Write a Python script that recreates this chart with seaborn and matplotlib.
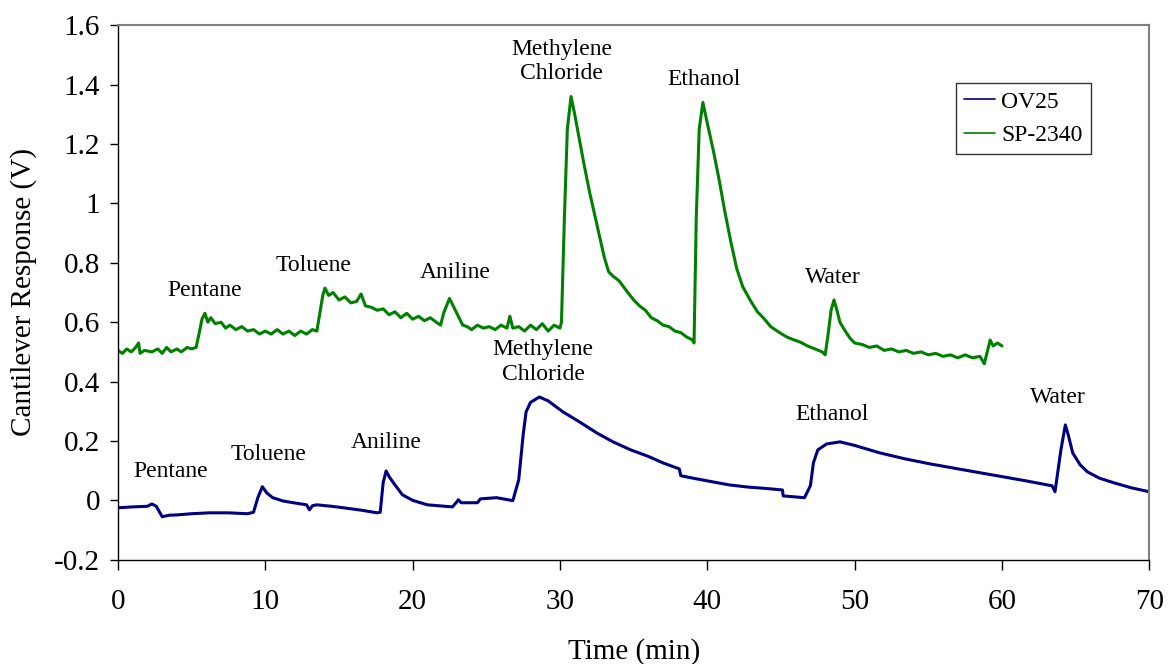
import numpy as np
import pandas as pd
import seaborn as sns
import matplotlib.pyplot as plt

# --- data ---
sp_t = [0.0, 0.3, 0.6, 0.9, 1.2, 1.4, 1.5, 1.8, 2.3, 2.7, 3.0, 3.3, 3.6, 4.0, 4.3, 4.7,
        5.0, 5.3, 5.5, 5.7, 5.9, 6.1, 6.3, 6.6, 7.0, 7.3, 7.6, 8.0, 8.4, 8.8, 9.2, 9.6,
        10.0, 10.4, 10.8, 11.2, 11.6, 12.0, 12.4, 12.8, 13.2, 13.5, 13.7, 13.9, 14.05,
        14.3, 14.6, 15.0, 15.4, 15.8, 16.2, 16.5, 16.8, 17.2, 17.6, 18.0, 18.4, 18.8,
        19.2, 19.6, 20.0, 20.4, 20.8, 21.2, 21.6, 21.9, 22.1, 22.5, 22.8, 23.1, 23.4,
        23.7, 24.0, 24.4, 24.8, 25.2, 25.6, 26.0, 26.4, 26.6, 26.8, 27.2, 27.6, 28.0,
        28.4, 28.8, 29.2, 29.6, 30.0, 30.1, 30.3, 30.5, 30.75, 31.0, 31.3, 31.6, 32.0,
        32.5, 33.0, 33.3, 33.6, 34.0, 34.3, 34.6, 35.0, 35.4, 35.8, 36.2, 36.6, 37.0,
        37.4, 37.8, 38.2, 38.6, 39.0, 39.1, 39.25, 39.45, 39.7, 40.0, 40.4, 40.8, 41.2,
        41.6, 42.0, 42.4, 42.9, 43.4, 43.8, 44.3, 44.9, 45.4, 45.9, 46.3, 46.8, 47.3,
        47.8, 48.0, 48.2, 48.4, 48.6, 48.8, 49.0, 49.3, 49.7, 50.0, 50.5, 51.0, 51.5,
        52.0, 52.5, 53.0, 53.5, 54.0, 54.5, 55.0, 55.5, 56.0, 56.5, 57.0, 57.5, 58.0,
        58.5, 58.8, 59.0, 59.2, 59.4, 59.7, 60.0]
sp_v = [0.505, 0.495, 0.51, 0.50, 0.515, 0.53, 0.495, 0.505, 0.50, 0.51, 0.495, 0.515,
        0.50, 0.51, 0.50, 0.515, 0.51, 0.515, 0.56, 0.61, 0.63, 0.60, 0.615, 0.595,
        0.60, 0.58, 0.59, 0.575, 0.585, 0.57, 0.575, 0.56, 0.57, 0.56, 0.575, 0.56,
        0.57, 0.555, 0.57, 0.56, 0.575, 0.57, 0.63, 0.69, 0.715, 0.69, 0.70, 0.675,
        0.685, 0.665, 0.67, 0.695, 0.655, 0.65, 0.64, 0.645, 0.625, 0.635, 0.615,
        0.63, 0.61, 0.62, 0.605, 0.615, 0.60, 0.59, 0.63, 0.68, 0.65, 0.62, 0.59,
        0.585, 0.575, 0.59, 0.58, 0.585, 0.575, 0.59, 0.58, 0.62, 0.58, 0.585, 0.57,
        0.59, 0.575, 0.595, 0.57, 0.59, 0.58, 0.60, 0.95, 1.25, 1.36, 1.30, 1.22,
        1.14, 1.04, 0.93, 0.82, 0.77, 0.755, 0.74, 0.72, 0.70, 0.675, 0.655, 0.64,
        0.615, 0.605, 0.59, 0.585, 0.57, 0.565, 0.55, 0.54, 0.53, 0.95, 1.25, 1.34,
        1.27, 1.18, 1.08, 0.97, 0.87, 0.78, 0.72, 0.675, 0.635, 0.615, 0.585, 0.565,
        0.55, 0.54, 0.533, 0.52, 0.51, 0.50, 0.49, 0.56, 0.64, 0.675, 0.64, 0.60,
        0.575, 0.545, 0.53, 0.525, 0.515, 0.52, 0.505, 0.51, 0.50, 0.505, 0.495,
        0.50, 0.49, 0.495, 0.485, 0.49, 0.48, 0.49, 0.48, 0.485, 0.46, 0.50, 0.54,
        0.52, 0.53, 0.52]

ov_t = [0, 1.0, 2.0, 2.3, 2.6, 3.0, 3.5, 4.0, 5.0, 6.2, 7.5, 8.8, 9.2, 9.5, 9.8, 10.1,
        10.5, 11.2, 11.9, 12.8, 13.0, 13.2, 13.5, 14.5, 15.3, 16.5, 17.6, 17.8, 18.0,
        18.2, 18.4, 18.7, 19.3, 20.0, 21.0, 22.7, 23.0, 23.1, 23.3, 24.4, 24.6, 25.7,
        26.8, 27.2, 27.5, 27.7, 28.0, 28.6, 29.2, 30.2, 31.3, 32.5, 33.6, 34.8, 36.0,
        37.0, 38.1, 38.2, 39.0, 40.4, 41.5, 42.7, 44.0, 45.1, 45.15, 46.6, 47.0, 47.2,
        47.5, 48.1, 49.0, 50.0, 51.7, 53.4, 55.1, 56.8, 58.5, 60.0, 61.7, 63.4, 63.6,
        64.0, 64.3, 64.5, 64.8, 65.3, 65.8, 66.6, 67.6, 68.8, 70]
ov_v = [-0.025, -0.022, -0.02, -0.012, -0.02, -0.055, -0.05, -0.049, -0.045, -0.042,
        -0.042, -0.045, -0.04, 0.01, 0.046, 0.025, 0.009, -0.002, -0.008, -0.015,
        -0.032, -0.018, -0.015, -0.02, -0.025, -0.033, -0.042, -0.04, 0.06, 0.099,
        0.08, 0.059, 0.019, 0.0, -0.015, -0.022, -0.005, 0.002, -0.008, -0.008, 0.005,
        0.009, -0.001, 0.069, 0.22, 0.298, 0.33, 0.348, 0.335, 0.298, 0.265, 0.227,
        0.197, 0.17, 0.148, 0.126, 0.106, 0.083, 0.075, 0.062, 0.052, 0.045, 0.04,
        0.035, 0.015, 0.009, 0.05, 0.126, 0.17, 0.19, 0.197, 0.185, 0.16, 0.14, 0.123,
        0.108, 0.093, 0.08, 0.065, 0.049, 0.029, 0.17, 0.254, 0.22, 0.16, 0.12, 0.096,
        0.075, 0.059, 0.042, 0.029]

sp_labels = ["Pentane", "Toluene", "Aniline", "Methylene\nChloride", "Ethanol", "Water"]
sp_lab_t = [5.9, 13.3, 22.9, 30.1, 39.8, 48.5]
sp_lab_v = [0.708, 0.792, 0.769, 1.479, 1.418, 0.752]
ov_labels = ["Pentane", "Toluene", "Aniline", "Methylene\nChloride", "Ethanol", "Water"]
ov_lab_t = [3.6, 10.25, 18.2, 28.85, 48.5, 63.8]
ov_lab_v = [0.096, 0.153, 0.194, 0.466, 0.288, 0.345]

df = pd.concat([
    pd.DataFrame({"Time": ov_t, "Resp": ov_v, "Coating": "OV25"}),
    pd.DataFrame({"Time": sp_t, "Resp": sp_v, "Coating": "SP-2340"}),
])

sns.set_style("ticks")
plt.rcParams['font.family'] = ['Liberation Serif', 'DejaVu Serif']
plt.rcParams['axes.unicode_minus'] = False
plt.rcParams['text.color'] = 'black'
plt.rcParams['axes.labelcolor'] = 'black'
plt.rcParams['xtick.labelcolor'] = 'black'
plt.rcParams['ytick.labelcolor'] = 'black'

fig, ax = plt.subplots(figsize=(11.68, 6.64), dpi=100)
fig.subplots_adjust(left=0.101, right=0.984, top=0.962, bottom=0.157)

sns.lineplot(data=df, x="Time", y="Resp", hue="Coating", sort=False,
             palette={"OV25": "#000080", "SP-2340": "#008000"},
             linewidth=2.2, ax=ax)

for lab, t, v in zip(sp_labels, sp_lab_t, sp_lab_v):
    ax.text(t, v, lab, ha="center", va="center", fontsize=17, linespacing=1.2,
            color="black")
for lab, t, v in zip(ov_labels, ov_lab_t, ov_lab_v):
    ax.text(t, v, lab, ha="center", va="center", fontsize=17, linespacing=1.2,
            color="black")

ax.set_xlim(0, 70)
ax.set_ylim(-0.2, 1.6)
ax.set_xticks(np.arange(0, 71, 10))
ax.set_yticks(np.arange(-0.2, 1.61, 0.2))
ax.yaxis.set_major_formatter(plt.FuncFormatter(lambda v, p: "%g" % round(v, 1)))
ax.tick_params(labelsize=21, width=1, color="black", labelcolor="black")
ax.tick_params(axis="x", length=7, pad=14)
ax.tick_params(axis="y", length=6, pad=7)
ax.set_xlabel("Time (min)", fontsize=21, labelpad=17)
ax.set_ylabel("Cantilever Response (V)", fontsize=21, labelpad=12)

for s in ["top", "right"]:
    ax.spines[s].set_visible(True)
    ax.spines[s].set_color("#808080")
    ax.spines[s].set_linewidth(1.5)
for s in ["left", "bottom"]:
    ax.spines[s].set_color("black")
    ax.spines[s].set_linewidth(1)

leg = ax.legend(loc="upper right", bbox_to_anchor=(0.943, 0.892), borderaxespad=0,
                fontsize=17, frameon=True, fancybox=False, title=None,
                handlelength=1.3, handletextpad=0.25, labelspacing=0.5,
                borderpad=0.35)
leg.get_frame().set_edgecolor("black")
leg.get_frame().set_linewidth(1)
for h in leg.get_lines():
    h.set_linewidth(1.2)
for txt in leg.get_texts():
    txt.set_color("black")

fig.savefig("out.png", dpi=100)
